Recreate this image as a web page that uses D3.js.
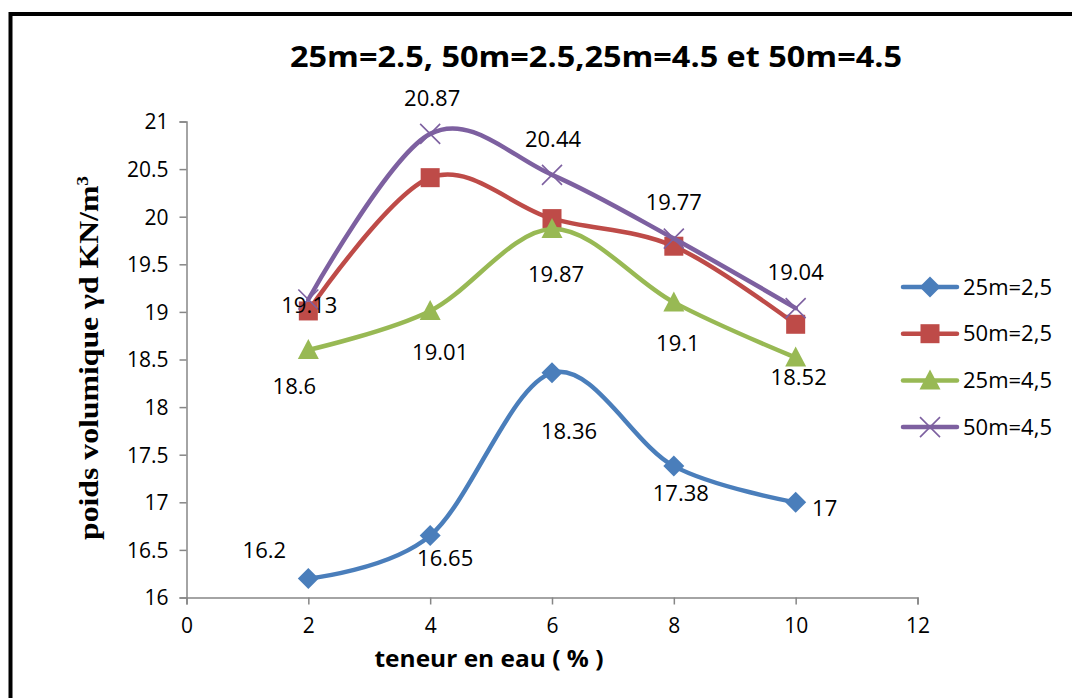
<!DOCTYPE html>
<html>
<head>
<meta charset="utf-8">
<script src="https://cdn.jsdelivr.net/npm/d3@7"></script>
<style>
  body { margin: 0; background: #fff; }
  svg { display: block; }
  .lbl { font-family: "Open Sans", sans-serif; font-size: 22px; fill: #000; }
</style>
</head>
<body>
<div class="chart"></div>
<script>
// data
let teneur = [2, 4, 6, 8, 10];
let series_names = ["25m=2,5", "50m=2,5", "25m=4,5", "50m=4,5"];
let v25_25 = [16.2, 16.65, 18.36, 17.38, 17];
let v50_25 = [19.01, 20.41, 19.98, 19.69, 18.87];
let v25_45 = [18.6, 19.01, 19.87, 19.1, 18.52];
let v50_45 = [19.13, 20.87, 20.44, 19.77, 19.04];
let x_ticks = [0, 2, 4, 6, 8, 10, 12];
let y_ticks = [16, 16.5, 17, 17.5, 18, 18.5, 19, 19.5, 20, 20.5, 21];

const width = 1072;
const height = 698;

const colors = ["#4A7EBB", "#BE4B48", "#98B954", "#7D60A0"];
const shapes = ["diamond", "square", "triangle", "cross"];

// label placement (pixels from the point), null = no label
const label_offsets = [
    [[-44, -28], [15, 23], [17, 58], [7, 27], [29, 6]],
    null,
    [[-14, 36], [10, 41], [4, 45], [4, 41], [3, 20]],
    [[1, 6], [2, -36], [1, -36], [0, -36], [0, -36]]
];

const all_series = [v25_25, v50_25, v25_45, v50_45];

const svg = d3.select(".chart")
    .append("svg")
    .attr("width", width)
    .attr("height", height);

// outer frame
svg.append("rect")
    .attr("x", 10.5)
    .attr("y", 14)
    .attr("width", width + 20)
    .attr("height", height + 20)
    .attr("fill", "none")
    .attr("stroke", "#000")
    .attr("stroke-width", 4);

const x = d3.scaleLinear().domain([0, 12]).range([186.5, 917.5]);
const y = d3.scaleLinear().domain([16, 21]).range([597.5, 121.5]);

// axes
const xAxis = svg.append("g")
    .attr("transform", "translate(0," + y(16) + ")")
    .call(d3.axisBottom(x).tickValues(x_ticks).tickSize(7).tickPadding(14).tickFormat(d3.format("d")));
const yAxis = svg.append("g")
    .attr("transform", "translate(" + x(0) + ",0)")
    .call(d3.axisLeft(y).tickValues(y_ticks).tickSize(7).tickPadding(11).tickFormat(d => d));

[xAxis, yAxis].forEach(function(ax){
    ax.select(".domain").attr("stroke", "#868686").attr("stroke-width", 1.5);
    ax.selectAll(".tick line").attr("stroke", "#868686").attr("stroke-width", 1.5);
    ax.selectAll(".tick text")
        .attr("font-family", "Open Sans, sans-serif")
        .attr("font-size", "21px")
        .attr("fill", "#000");
});
yAxis.selectAll(".tick text").attr("dy", "0.35em");

// lines
const line = d3.line()
    .x((d, i) => x(teneur[i]))
    .y(d => y(d))
    .curve(d3.curveCardinal.tension(0));

function marker(g, shape, color){
    if (shape == "diamond") {
        g.append("path").attr("d", "M0,-10.5L10.5,0L0,10.5L-10.5,0Z").attr("fill", color);
    } else if (shape == "square") {
        g.append("rect").attr("x", -9.5).attr("y", -9.5).attr("width", 19).attr("height", 19).attr("fill", color);
    } else if (shape == "triangle") {
        g.append("path").attr("d", "M0,-11L10.5,9L-10.5,9Z").attr("fill", color);
    } else {
        g.append("path").attr("d", "M-10,-10L10,10M10,-10L-10,10")
            .attr("stroke", color).attr("stroke-width", 1.6).attr("fill", "none");
    }
}

all_series.forEach(function(vals, s){
    svg.append("path")
        .datum(vals)
        .attr("d", line)
        .attr("fill", "none")
        .attr("stroke", colors[s])
        .attr("stroke-width", 4.5)
        .attr("stroke-linecap", "round");

    svg.selectAll(".pt" + s)
        .data(vals)
        .enter()
        .append("g")
        .attr("class", "pt" + s)
        .attr("transform", (d, i) => "translate(" + x(teneur[i]) + "," + y(d) + ")")
        .each(function(){
            marker(d3.select(this), shapes[s], colors[s]);
        });
});

// data labels
all_series.forEach(function(vals, s){
    if (!label_offsets[s]) return;
    svg.selectAll(".lb" + s)
        .data(vals)
        .enter()
        .append("text")
        .attr("class", "lbl")
        .attr("text-anchor", "middle")
        .attr("dy", "0.35em")
        .attr("x", (d, i) => x(teneur[i]) + label_offsets[s][i][0])
        .attr("y", (d, i) => y(d) + label_offsets[s][i][1])
        .text(d => d);
});

// legend
const legend = svg.selectAll(".legend")
    .data(series_names)
    .enter()
    .append("g")
    .attr("class", "legend")
    .attr("transform", (d, i) => "translate(930," + (287 + i * 46.7) + ")");
legend.append("line")
    .attr("x1", -27).attr("x2", 27)
    .attr("stroke", (d, i) => colors[i])
    .attr("stroke-width", 4.5)
    .attr("stroke-linecap", "round");
legend.each(function(d, i){
    marker(d3.select(this), shapes[i], colors[i]);
});
legend.append("text")
    .attr("class", "lbl")
    .attr("x", 33)
    .attr("dy", "0.35em")
    .text(d => d);

// titles
svg.append("text")
    .attr("x", 596)
    .attr("y", 67)
    .attr("text-anchor", "middle")
    .attr("font-family", "Open Sans, sans-serif")
    .attr("font-weight", "bold")
    .attr("font-size", "29px")
    .attr("textLength", 612)
    .attr("lengthAdjust", "spacingAndGlyphs")
    .text("25m=2.5, 50m=2.5,25m=4.5 et 50m=4.5");

svg.append("text")
    .attr("x", 489)
    .attr("y", 667)
    .attr("text-anchor", "middle")
    .attr("font-family", "Open Sans, sans-serif")
    .attr("font-weight", "bold")
    .attr("font-size", "23px")
    .attr("textLength", 229)
    .attr("lengthAdjust", "spacingAndGlyphs")
    .text("teneur en eau ( % )");

const ytitle = svg.append("text")
    .attr("transform", "translate(98,358) rotate(-90)")
    .attr("text-anchor", "middle")
    .attr("font-family", "Liberation Serif, Times New Roman, serif")
    .attr("font-weight", "bold")
    .attr("font-size", "28px")
    .attr("textLength", 364)
    .attr("lengthAdjust", "spacingAndGlyphs");
ytitle.append("tspan").text("poids volumique γd KN/m");
ytitle.append("tspan").attr("font-size", "17px").attr("dy", "-10").text("3");
</script>
</body>
</html>
